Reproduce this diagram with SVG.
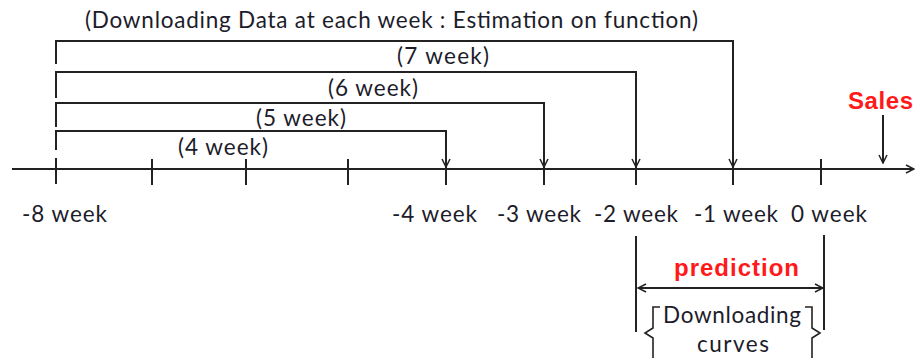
<svg xmlns="http://www.w3.org/2000/svg" width="917" height="358" viewBox="0 0 917 358">
<defs>
<marker id="ah" viewBox="0 0 10 10" refX="9" refY="5" markerWidth="10" markerHeight="10" markerUnits="userSpaceOnUse" orient="auto-start-reverse">
<path d="M1,1 L9,5 L1,9" fill="none" stroke="#222" stroke-width="1.5"/>
</marker>
<style>
.ln{stroke:#222;stroke-width:2;fill:none}
.tk{stroke:#222;stroke-width:2}
.br{stroke:#222;stroke-width:1.6;fill:none}
.t{font-family:Lato,"Liberation Sans",sans-serif;font-size:22.5px;fill:#1c1c2a}
.r{font-family:"Liberation Sans",Arial,sans-serif;font-size:24px;font-weight:bold;fill:#ff1a1a}
</style>
</defs>
<rect width="917" height="358" fill="#fff"/>
<g id="axis">
<line class="ln" x1="12" y1="169" x2="914" y2="169" marker-end="url(#ah)"/>
<line class="tk" x1="56" y1="158" x2="56" y2="184"/>
<line class="tk" x1="152" y1="159" x2="152" y2="185"/>
<line class="tk" x1="246" y1="159" x2="246" y2="185"/>
<line class="tk" x1="348" y1="159" x2="348" y2="185"/>
<line class="tk" x1="446" y1="159" x2="446" y2="185"/>
<line class="tk" x1="544" y1="159" x2="544" y2="185"/>
<line class="tk" x1="636" y1="159" x2="636" y2="185"/>
<line class="tk" x1="733" y1="159" x2="733" y2="185"/>
<line class="tk" x1="821" y1="159" x2="821" y2="185"/>
</g>
<g id="axis-labels">
<text class="t" x="22" y="222" textLength="85">-8 week</text>
<text class="t" x="392" y="222" textLength="85">-4 week</text>
<text class="t" x="497" y="222" textLength="84">-3 week</text>
<text class="t" x="594" y="222" textLength="84">-2 week</text>
<text class="t" x="694" y="222" textLength="84">-1 week</text>
<text class="t" x="791" y="222" textLength="76">0 week</text>
</g>
<g id="title">
<text class="t" x="85" y="28" textLength="613">(Downloading Data at each week : Estimation on function)</text>
</g>
<g id="connectors">
<path class="ln" d="M56,64 V41 H733 V167" marker-end="url(#ah)"/>
<path class="ln" d="M56,98 V72 H636 V167" marker-end="url(#ah)"/>
<path class="ln" d="M56,127 V103 H544 V167" marker-end="url(#ah)"/>
<path class="ln" d="M56,150 V131 H446 V167" marker-end="url(#ah)"/>
<line class="ln" x1="883" y1="115" x2="883" y2="163" marker-end="url(#ah)"/>
</g>
<g id="w7"><text class="t" x="397" y="64" textLength="92">(7 week)</text></g>
<g id="w6"><text class="t" x="328" y="96" textLength="90">(6 week)</text></g>
<g id="w5"><text class="t" x="256" y="126" textLength="90">(5 week)</text></g>
<g id="w4"><text class="t" x="178" y="155" textLength="90">(4 week)</text></g>
<g id="sales"><text class="r" x="848" y="109" textLength="65">Sales</text></g>
<g id="prediction">
<line class="tk" x1="636" y1="236" x2="636" y2="332"/>
<line class="tk" x1="824" y1="235" x2="824" y2="330"/>
<line class="ln" x1="638" y1="288" x2="823" y2="288" marker-start="url(#ah)" marker-end="url(#ah)"/>
<text class="r" x="674" y="276" textLength="125">prediction</text>
</g>
<g id="downloading-curves">
<path class="br" d="M660,307 H653 V328 L645,333 L653,338 V358"/>
<path class="br" d="M805,307 H812 V328 L820,333 L812,338 V358"/>
<text class="t" x="663" y="323" textLength="138">Downloading</text>
<text class="t" x="697" y="352" textLength="72">curves</text>
</g>
</svg>
